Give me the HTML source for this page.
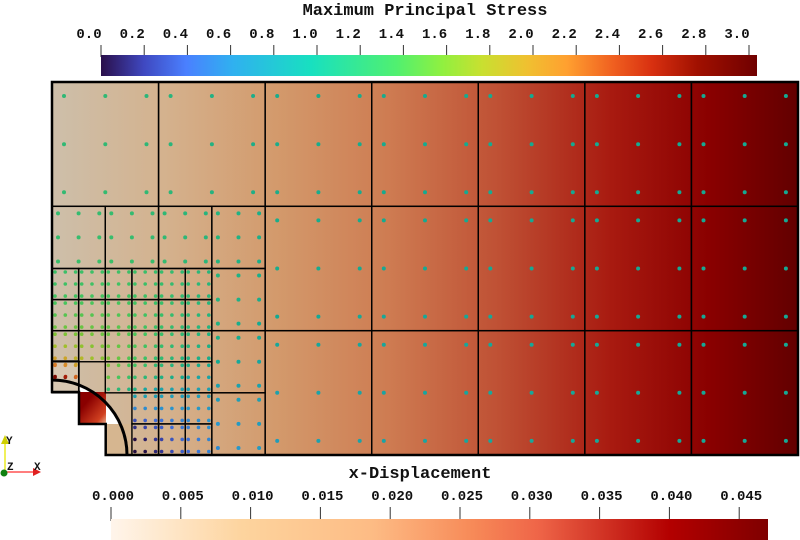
<!DOCTYPE html>
<html><head><meta charset="utf-8"><style>
html,body{margin:0;padding:0;background:#fff;width:800px;height:540px;overflow:hidden}
svg{display:block}
text{font-family:"Liberation Mono",monospace;font-weight:bold;fill:#111}
</style></head><body>
<svg id="s" width="800" height="540" viewBox="0 0 800 540" xmlns="http://www.w3.org/2000/svg">
<defs>
<linearGradient id="turbo" x1="0" x2="1" y1="0" y2="0">
<stop offset="0" stop-color="#2a0f4a"/><stop offset="0.065" stop-color="#3f48c0"/><stop offset="0.13" stop-color="#4a80ff"/><stop offset="0.2" stop-color="#30b0f0"/><stop offset="0.32" stop-color="#18e0c0"/><stop offset="0.45" stop-color="#50f070"/><stop offset="0.52" stop-color="#90f040"/><stop offset="0.58" stop-color="#c8e030"/><stop offset="0.65" stop-color="#f0c030"/><stop offset="0.71" stop-color="#ffa030"/><stop offset="0.78" stop-color="#f06020"/><stop offset="0.84" stop-color="#d83010"/><stop offset="0.91" stop-color="#a01000"/><stop offset="1" stop-color="#700000"/>
</linearGradient>
<linearGradient id="orr" x1="0" x2="1" y1="0" y2="0">
<stop offset="0" stop-color="#fff5eb"/><stop offset="0.2" stop-color="#fdd49e"/><stop offset="0.4" stop-color="#fdbb84"/><stop offset="0.55" stop-color="#f78a58"/><stop offset="0.65" stop-color="#ef6548"/><stop offset="0.85" stop-color="#b30000"/><stop offset="1" stop-color="#7f0000"/>
</linearGradient>
<linearGradient id="plate" gradientUnits="userSpaceOnUse" x1="52" x2="798" y1="0" y2="0">
<stop offset="0" stop-color="#cdbfaa"/><stop offset="0.15" stop-color="#d4b28e"/><stop offset="0.3" stop-color="#d39a6c"/><stop offset="0.45" stop-color="#ce7c52"/><stop offset="0.6" stop-color="#bf5034"/><stop offset="0.75" stop-color="#a81a10"/><stop offset="0.88" stop-color="#8a0000"/><stop offset="1" stop-color="#620000"/>
</linearGradient>
<linearGradient id="hot" x1="0" x2="1" y1="0" y2="1">
<stop offset="0.3" stop-color="#8a0000"/><stop offset="0.8" stop-color="#d04020"/><stop offset="1" stop-color="#e8b090"/>
</linearGradient>
</defs>
<text x="425" y="15" text-anchor="middle" font-size="17">Maximum Principal Stress</text>
<g id="tt" font-size="14"></g>
<rect x="101" y="55" width="656" height="21" fill="url(#turbo)"/>
<text x="420" y="478" text-anchor="middle" font-size="17">x-Displacement</text>
<g id="bt" font-size="14"></g>
<rect x="111" y="519" width="657" height="21" fill="url(#orr)"/>
<path id="body" d="M52,82 H798 V455 H127 A75,75 0 0 0 52,380 Z" fill="url(#plate)"/>
<rect x="52" y="361" width="27" height="31" fill="#d8c8b2"/>
<rect x="79" y="392" width="27" height="32" fill="url(#hot)"/>
<rect x="105" y="424" width="27" height="31" fill="#d6b690"/>
<path d="M52,380 A75,75 0 0 1 127,455" fill="none" stroke="#000" stroke-width="3"/>
<g id="grid" stroke="#000" stroke-width="1.4" fill="none"></g>
<g id="dots"></g>
<path d="M52,82 H798 V455 H105.7 V424 H79 V392 H52 Z" fill="none" stroke="#000" stroke-width="2.5"/>
<line x1="5" y1="472" x2="5" y2="442" stroke="#e8e800" stroke-width="1.3"/>
<polygon points="1,444 5,435 9,444" fill="#d0d000"/>
<line x1="5" y1="472" x2="36" y2="472" stroke="#ff3030" stroke-width="1.3"/>
<polygon points="33,468 41,472 33,476" fill="#e02020"/>
<circle cx="4" cy="473" r="3.5" fill="#108010"/>
<text x="6" y="444" font-size="11" font-weight="normal">Y</text>
<text x="7" y="470" font-size="11" font-weight="normal">Z</text>
<text x="34" y="470" font-size="11" font-weight="normal">X</text>
</svg>
<script>
var NS="http://www.w3.org/2000/svg";
function el(p,t,a,txt){var e=document.createElementNS(NS,t);for(var k in a)e.setAttribute(k,a[k]);if(txt!==undefined)e.textContent=txt;document.getElementById(p).appendChild(e);return e;}
for(var i=0;i<=15;i++){var x=101+i*43.2;el("tt","line",{x1:x,y1:45,x2:x,y2:57,stroke:"#333","stroke-width":1});el("tt","text",{x:x-12,y:38,"text-anchor":"middle"},(i*0.2).toFixed(1));}
for(var i=0;i<=9;i++){var x=111+i*69.8;el("bt","line",{x1:x,y1:507,x2:x,y2:521,stroke:"#333","stroke-width":1});el("bt","text",{x:x+2,y:500,"text-anchor":"middle"},(i*0.005).toFixed(3));}
var cm=[[0,[42,15,74]],[0.2,[63,72,192]],[0.4,[74,128,255]],[0.62,[48,176,240]],[1.0,[24,200,170]],[1.4,[80,230,112]],[1.6,[144,230,64]],[1.8,[200,224,48]],[2.0,[240,192,48]],[2.2,[255,160,48]],[2.4,[240,96,32]],[2.6,[216,48,16]],[2.8,[160,16,0]],[3.1,[112,0,0]]];
function col(v){v=Math.max(0,Math.min(3.1,v));for(var i=1;i<cm.length;i++){if(v<=cm[i][0]){var a=cm[i-1],b=cm[i],t=(v-a[0])/(b[0]-a[0]);var c=a[1].map(function(q,j){return Math.round((q+(b[1][j]-q)*t)*0.85);});return "rgb("+c+")";}}return "rgb(95,0,0)";}
function stress(x,y){var dx=x-52,dy=455-y,r=Math.sqrt(dx*dx+dy*dy),a=75;if(r<a)r=a;var th=Math.atan2(dy,dx);var q=a*a/(r*r);var s=1-q*(1.5*Math.cos(2*th)+Math.cos(4*th))+1.5*q*q*Math.cos(4*th);if(x<265&&s>0.9)s+=0.2*Math.min(1,(265-x)/150);return s;}
var cells=[];
function cell(x0,y0,w,h){cells.push([x0,y0,w,h]);}
var cw=106.57,rh=124.33;
for(var c=0;c<7;c++)cell(52+c*cw,82,cw,rh);
for(var c=2;c<7;c++)for(var r=1;r<3;r++)cell(52+c*cw,82+r*rh,cw,rh);
var hw=cw/2,hh=rh/2;
for(var i=0;i<4;i++)for(var j=0;j<4;j++){var x0=52+i*hw,y0=206.33+j*hh;
 var fine=(i<3&&(j==1||j==2))||(i>=1&&i<3&&j==3);
 if(i==0&&j==3)continue;
 if(fine){for(var a=0;a<2;a++)for(var b=0;b<2;b++){var xx=x0+a*hw/2,yy=y0+b*hh/2;
   if(i==0&&j==2&&b==1&&a==1)continue;
   if(i==1&&j==3&&a==0)continue;
   cell(xx,yy,hw/2,hh/2);}}
 else cell(x0,y0,hw,hh);}
cell(52,361,27,31);
var g=[0.113,0.5,0.887];
cells.forEach(function(c){
 el("grid","rect",{x:c[0],y:c[1],width:c[2],height:c[3]});
 g.forEach(function(fx){g.forEach(function(fy){var x=c[0]+fx*c[2],y=c[1]+fy*c[3];
  var dx=x-52,dy=455-y;if(dx*dx+dy*dy<75*75)return;
  el("dots","circle",{cx:x.toFixed(1),cy:y.toFixed(1),r:c[2]<40?1.8:2,fill:col(stress(x,y))});});});
});
</script>
</body></html>
